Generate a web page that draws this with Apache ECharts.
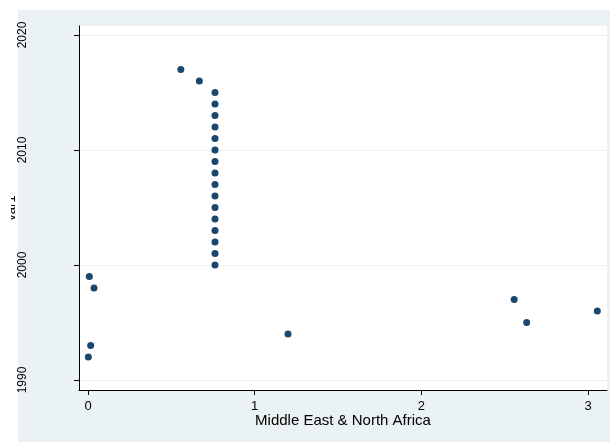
<!DOCTYPE html>
<html>
<head>
<meta charset="utf-8">
<script src="https://cdn.jsdelivr.net/npm/echarts@6/dist/echarts.min.js"></script>
<style>
  html, body { margin: 0; padding: 0; background: #fff; }
  #chart { width: 610px; height: 444px; }
</style>
</head>
<body>
<div id="chart"></div>
<script>
// var1 (year) against the Middle East & North Africa value
const years = [1992, 1993, 1994, 1995, 1996, 1997, 1998, 1999,
  2000, 2001, 2002, 2003, 2004, 2005, 2006, 2007,
  2008, 2009, 2010, 2011, 2012, 2013, 2014, 2015, 2016, 2017]
const mena = [0.002, 0.016, 1.2, 2.632, 3.056, 2.557, 0.036, 0.008,
  0.762, 0.762, 0.762, 0.762, 0.762, 0.762, 0.762, 0.762,
  0.762, 0.762, 0.762, 0.762, 0.762, 0.762, 0.762, 0.762, 0.668, 0.557]
const xTicks = [0, 1, 2, 3]
const yTicks = [1990, 2000, 2010, 2020]

const points = years.map((y, i) => [mena[i], y])

const chart = echarts.init(document.getElementById('chart'))
const font = 'Liberation Sans, Arial, sans-serif'

chart.setOption({
  animation: false,
  backgroundColor: '#fff',
  graphic: [
    { type: 'rect', z: -10, shape: { x: 18, y: 10, width: 592, height: 432 }, style: { fill: '#eaf2f3' } },
    // the y title is cut off at the left edge in the original
    { type: 'rect', z: 100, shape: { x: 0, y: 150, width: 11, height: 120 }, style: { fill: '#fff' } }
  ],
  grid: {
    left: 79, right: 3, top: 26, bottom: 54,
    outerBoundsMode: 'none',
    containLabel: false,
    show: true, backgroundColor: '#fff', borderWidth: 0
  },
  xAxis: {
    type: 'value',
    min: -0.054, max: 3.114,
    name: 'Middle East & North Africa',
    nameLocation: 'middle',
    nameGap: 23,
    nameMoveOverlap: false,
    nameTextStyle: { color: '#000', fontSize: 15, fontFamily: font },
    axisLine: { show: true, onZero: false, lineStyle: { color: '#000', width: 1 } },
    axisTick: { show: true, length: 5, customValues: xTicks, lineStyle: { color: '#000' } },
    axisLabel: { customValues: xTicks, color: '#000', fontSize: 13, fontFamily: font, margin: 10 },
    splitLine: { show: false }
  },
  yAxis: {
    type: 'value',
    min: 1989.13, max: 2020.78,
    name: 'var1',
    nameLocation: 'middle',
    nameRotate: 90,
    nameGap: 61,
    nameMoveOverlap: false,
    nameTextStyle: { color: '#000', fontSize: 13, fontFamily: font },
    axisLine: { show: true, onZero: false, lineStyle: { color: '#000', width: 1 } },
    axisTick: { show: true, length: 5, customValues: yTicks, lineStyle: { color: '#000' } },
    axisLabel: {
      customValues: yTicks, rotate: 90, color: '#000', fontSize: 12, fontFamily: font, margin: 50,
      formatter: v => String(v)
    },
    splitLine: { show: true, lineStyle: { color: '#eaf2f3', width: 1 } }
  },
  series: [{
    type: 'scatter',
    data: points,
    symbol: 'circle',
    symbolSize: 7,
    itemStyle: { color: '#1a476f', opacity: 1 }
  }]
})
</script>
</body>
</html>
